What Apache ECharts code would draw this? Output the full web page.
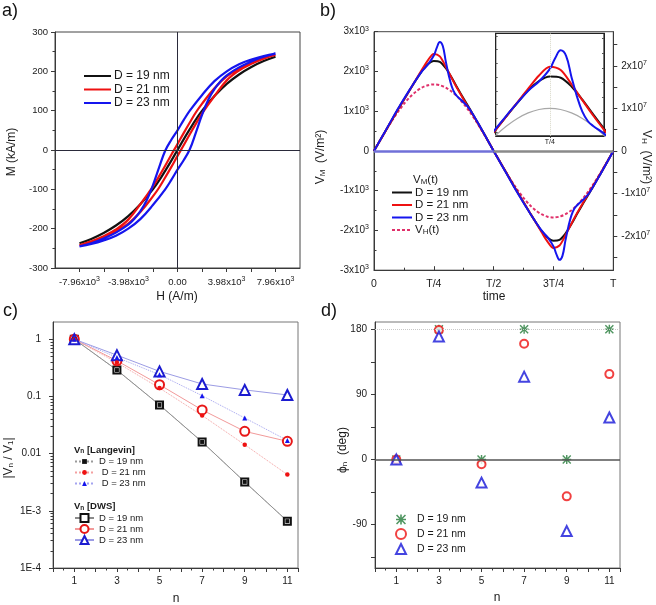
<!DOCTYPE html>
<html><head><meta charset="utf-8">
<script src="https://cdn.jsdelivr.net/npm/echarts@6/dist/echarts.min.js"></script>
<style>html,body{margin:0;padding:0;background:#fff}#c{width:656px;height:605px}</style>
</head><body><div id="c"></div>
<script>
// ---------- Panel a : hysteresis loops ----------
const aXLabelVals = [-7960, -3980, 0, 3980, 7960];
const aXLabelText = ['-7.96x10{s|3}', '-3.98x10{s|3}', '0.00', '3.98x10{s|3}', '7.96x10{s|3}'];
const a19H = [-7960,-7000,-6000,-5000,-4000,-3000,-2000,-1500,-1000,-500,0,500,1000,1500,2000,3000,4000,5000,6000,7000,7960];
const a19M = [-237,-226,-211,-192,-168,-137,-100,-78,-53,-27,0,27,53,78,100,137,168,192,211,226,237];
const a21DescH = [7960,7000,6000,5000,4000,3000,2000,1500,1000,500,0,-500,-1000,-1500,-2000,-3000,-4000,-5000,-6000,-7000,-7960];
const a21DescM = [242,234,222,207,187,157,118,96,70,43,15,-12,-40,-67,-93,-137,-177,-202,-219,-232,-242];
const a21AscH = [-7960,-7000,-6000,-5000,-4000,-3000,-2000,-1500,-1000,-500,0,500,1000,1500,2000,3000,4000,5000,6000,7000,7960];
const a21AscM = [-242,-234,-222,-207,-187,-157,-118,-96,-70,-43,-15,12,40,67,93,137,177,202,219,232,242];
const a23DescH = [7960,7000,6000,5000,4000,3000,2000,1000,500,0,-500,-1000,-1500,-2000,-2500,-3000,-3500,-4000,-5000,-6000,-7000,-7960];
const a23DescM = [245,239,230,218,200,175,140,100,76,50,26,-2,-45,-90,-128,-155,-175,-190,-210,-225,-237,-245];
const a23AscH = [-7960,-7000,-6000,-5000,-4000,-3000,-2000,-1000,-500,0,500,1000,1500,2000,2500,3000,3500,4000,5000,6000,7000,7960];
const a23AscM = [-245,-239,-230,-218,-200,-175,-140,-100,-76,-50,-26,2,45,90,128,155,175,190,210,225,237,245];

// ---------- Panel b : V_M(t) and V_H(t) ----------
const bTickText = ['0', 'T/4', 'T/2', '3T/4', 'T'];
const bT = [0,0.025,0.05,0.075,0.1,0.125,0.15,0.175,0.2,0.225,0.25,0.275,0.3,0.325,0.35,0.375,0.4,0.425,0.45,0.475,0.5,
            0.525,0.55,0.575,0.6,0.625,0.65,0.675,0.7,0.725,0.75,0.775,0.8,0.825,0.85,0.875,0.9,0.925,0.95,0.975,1];
const b19 = [0,260,520,780,1040,1290,1540,1780,2010,2180,2260,2240,2080,1840,1570,1310,1060,800,540,270,0,
             -260,-520,-780,-1040,-1290,-1540,-1780,-2010,-2180,-2260,-2240,-2080,-1840,-1570,-1310,-1060,-800,-540,-270,0];
const b21 = [0,260,520,780,1040,1290,1540,1790,2040,2280,2440,2380,2120,1830,1550,1290,1040,790,530,270,0,
             -260,-520,-780,-1040,-1290,-1540,-1790,-2040,-2280,-2440,-2380,-2120,-1830,-1550,-1290,-1040,-790,-530,-270,0];
const b23T = [0,0.05,0.1,0.15,0.2,0.225,0.25,0.2625,0.275,0.2875,0.3,0.3125,0.325,0.3375,0.35,0.375,0.4,0.45,0.5,
              0.55,0.6,0.65,0.7,0.725,0.75,0.7625,0.775,0.7875,0.8,0.8125,0.825,0.8375,0.85,0.875,0.9,0.95,1];
const b23 = [0,530,1060,1550,2000,2170,2400,2600,2740,2640,2250,1900,1620,1450,1360,1220,1050,540,0,
             -530,-1060,-1550,-2000,-2170,-2400,-2600,-2740,-2640,-2250,-1900,-1620,-1450,-1360,-1220,-1050,-540,0];
const bVH = [0,0.244e7,0.483e7,0.709e7,0.918e7,1.104e7,1.264e7,1.392e7,1.486e7,1.543e7,1.562e7,1.543e7,1.486e7,1.392e7,1.264e7,1.104e7,0.918e7,0.709e7,0.483e7,0.244e7,0,
             -0.244e7,-0.483e7,-0.709e7,-0.918e7,-1.104e7,-1.264e7,-1.392e7,-1.486e7,-1.543e7,-1.562e7,-1.543e7,-1.486e7,-1.392e7,-1.264e7,-1.104e7,-0.918e7,-0.709e7,-0.483e7,-0.244e7,0];

// ---------- Panel c : harmonic amplitudes ----------
const cN = [1, 3, 5, 7, 9, 11];
const cLan19 = [1.0, 0.289, 0.071, 0.016, 0.0032, 0.00066];
const cLan21 = [1.0, 0.39, 0.14, 0.0464, 0.0143, 0.0043];
const cLan23 = [1.0, 0.48, 0.24, 0.103, 0.042, 0.017];
const cDws19 = [1.0, 0.289, 0.071, 0.016, 0.0032, 0.00066];
const cDws21 = [1.0, 0.42, 0.16, 0.058, 0.0245, 0.0164];
const cDws23 = [1.0, 0.527, 0.274, 0.165, 0.130, 0.106];
const cYLabels = {'0': '1', '-1': '0.1', '-2': '0.01', '-3': '1E-3', '-4': '1E-4'};

// ---------- Panel d : harmonic phases ----------
const dN = [1, 3, 5, 7, 9, 11];
const d19 = [0, 180, 0, 180, 0, 180];
const d21 = [0, 179, -6.5, 160, -51, 118];
const d23 = [0, 170, -32, 114.5, -99, 58];

const names = {
  a19: 'D = 19 nm', a21: 'D = 21 nm', a23: 'D = 23 nm',
  b19: 'D = 19 nm', b21: 'D = 21 nm', b23: 'D = 23 nm', bVH: 'V{sub|H}(t)',
  cL19: 'D = 19 nm', cL21: ' D = 21 nm', cL23: ' D = 23 nm',
  cD19: 'D = 19 nm', cD21: 'D = 21 nm', cD23: 'D = 23 nm',
  d19: 'D = 19 nm', d21: 'D = 21 nm', d23: 'D = 23 nm'
};

const FONT = '"Liberation Sans", Arial, sans-serif';
const TXT = '#1a1a1a';
const AX = '#3a3a3a';
const BLACK = '#111111', RED = '#ee1111', BLUE = '#1515ee';
const pairs = (xs, ys) => xs.map((x, i) => [x, ys[i]]);
const supRich = { s: { fontSize: 7, lineHeight: 6, verticalAlign: 'top', fontFamily: FONT, color: TXT } };
const subRich = { sub: { fontSize: 8, lineHeight: 6, verticalAlign: 'bottom', fontFamily: FONT, color: TXT } };

function frameGrid(left, top, width, height, extra) {
  return Object.assign({ left, top, width, height, show: true, borderColor: '#444', borderWidth: 1,
    backgroundColor: 'transparent', containLabel: false, outerBoundsMode: 'none' }, extra || {});
}
const lblBase = { color: TXT, fontFamily: FONT, fontSize: 10 };

// minor log ticks for panel c (positions of 2..9 x 10^k in log space)
const cMinor = [];
for (let d = -4; d <= 0; d++) for (let k = 2; k <= 9; k++) { const v = d + Math.log10(k); if (v < Math.log10(2)) cMinor.push(v); }

const chart = echarts.init(document.getElementById('c'));
const option = {
  animation: false,
  backgroundColor: '#fff',
  textStyle: { fontFamily: FONT },
  grid: [
    frameGrid(55, 32, 245, 236),
    frameGrid(374, 31.7, 239.3, 238.5),
    frameGrid(495.7, 33.3, 108.3, 102.5, { borderColor: '#222', borderWidth: 1.2 }),
    frameGrid(53, 322, 245, 246, { borderColor: '#777' }),
    frameGrid(375, 322, 245, 246, { borderColor: '#777' })
  ],
  xAxis: [
    { gridIndex: 0, type: 'value', min: -9950, max: 9950, interval: 1990, splitLine: { show: false },
      axisLine: { onZero: false, lineStyle: { color: AX } }, axisTick: { length: 4, lineStyle: { color: AX } },
      axisLabel: Object.assign({}, lblBase, { fontSize: 9.5, margin: 8, interval: 0, rich: supRich, lineHeight: 13,
        showMinLabel: false, showMaxLabel: false,
        formatter: v => { const i = aXLabelVals.findIndex(t => Math.abs(t - v) < 1); return i < 0 ? '' : aXLabelText[i]; } }) },
    { gridIndex: 1, type: 'value', min: 0, max: 1, interval: 0.25, splitLine: { show: false },
      axisLine: { onZero: false, lineStyle: { color: AX } }, axisTick: { inside: true, length: 4, lineStyle: { color: AX } },
      minorTick: { show: true, splitNumber: 2, length: 2.5, lineStyle: { color: AX } },
      axisLabel: Object.assign({}, lblBase, { fontSize: 10.5, margin: 8, formatter: v => bTickText[Math.round(v / 0.25)] }) },
    { gridIndex: 2, type: 'value', min: 0.125, max: 0.375, splitLine: { show: false },
      axisLine: { onZero: false, lineStyle: { color: '#222' } },
      axisTick: { inside: false, length: 2, customValues: [0.25], lineStyle: { color: '#222' } },
      axisLabel: Object.assign({}, lblBase, { fontSize: 7, margin: 3, customValues: [0.25], formatter: () => 'T/4' }) },
    { gridIndex: 3, type: 'value', min: 0, max: 11.5, interval: 1, splitLine: { show: false },
      axisLine: { onZero: false, lineStyle: { color: AX } }, axisTick: { length: 4, lineStyle: { color: AX } },
      minorTick: { show: true, splitNumber: 2, length: 2.5, lineStyle: { color: AX } },
      axisLabel: Object.assign({}, lblBase, { margin: 8, interval: 0, formatter: v => (v % 2 === 1 ? String(v) : '') }) },
    { gridIndex: 4, type: 'value', min: 0, max: 11.5, interval: 1, splitLine: { show: false },
      axisLine: { onZero: false, lineStyle: { color: AX } }, axisTick: { length: 4, lineStyle: { color: AX } },
      minorTick: { show: true, splitNumber: 2, length: 2.5, lineStyle: { color: AX } },
      axisLabel: Object.assign({}, lblBase, { margin: 8, interval: 0, formatter: v => (v % 2 === 1 ? String(v) : '') }) }
  ],
  yAxis: [
    { gridIndex: 0, type: 'value', min: -300, max: 300, interval: 100, splitLine: { show: false },
      axisLine: { onZero: false, lineStyle: { color: AX } }, axisTick: { length: 4, lineStyle: { color: AX } },
      minorTick: { show: true, splitNumber: 2, length: 2.5, lineStyle: { color: AX } },
      axisLabel: Object.assign({}, lblBase, { fontSize: 9.5, margin: 7 }) },
    { gridIndex: 1, type: 'value', min: -3000, max: 3000, interval: 1000, splitLine: { show: false },
      axisLine: { onZero: false, lineStyle: { color: AX } }, axisTick: { inside: true, length: 4, lineStyle: { color: AX } },
      minorTick: { show: true, splitNumber: 2, length: 2.5, lineStyle: { color: AX } },
      axisLabel: Object.assign({}, lblBase, { margin: 5, rich: supRich, lineHeight: 13,
        formatter: v => (v === 0 ? '0' : (v / 1000) + 'x10{s|3}') }) },
    { gridIndex: 1, type: 'value', position: 'right', min: -2.8e7, max: 2.8e7, splitLine: { show: false },
      axisLine: { onZero: false, lineStyle: { color: AX } },
      axisTick: { length: 4, customValues: [-2.5e7,-2e7,-1.5e7,-1e7,-0.5e7,0,0.5e7,1e7,1.5e7,2e7,2.5e7], lineStyle: { color: AX } },
      axisLabel: Object.assign({}, lblBase, { margin: 8, rich: supRich, lineHeight: 13, customValues: [-2e7,-1e7,0,1e7,2e7],
        formatter: v => (Math.abs(v) < 1 ? '0' : Math.round(v / 1e7) + 'x10{s|7}') }) },
    { gridIndex: 2, type: 'value', min: 1180, max: 3050, splitLine: { show: false },
      axisLine: { onZero: false, lineStyle: { color: '#222' } },
      axisTick: { inside: true, length: 2, customValues: [1250,1500,1750,2000,2250,2500,2750,3000], lineStyle: { color: '#555' } },
      axisLabel: { show: false } },
    { gridIndex: 2, type: 'value', position: 'right', min: 1.097e7, max: 2.836e7, splitLine: { show: false },
      axisLine: { onZero: false, lineStyle: { color: '#222' } },
      axisTick: { inside: true, length: 2, customValues: [1.25e7,1.5e7,1.75e7,2e7,2.25e7,2.5e7,2.75e7], lineStyle: { color: '#555' } },
      axisLabel: { show: false } },
    { gridIndex: 3, type: 'log', logBase: 10, min: 0.0001, max: 2, splitLine: { show: false },
      axisLine: { onZero: false, lineStyle: { color: AX } }, axisTick: { length: 4, lineStyle: { color: AX } },
      axisLabel: Object.assign({}, lblBase, { margin: 12, showMaxLabel: false,
        formatter: v => { const l = Math.log10(v); const r = Math.round(l); return Math.abs(l - r) < 0.01 ? (cYLabels[String(r)] || '') : ''; } }) },
    { gridIndex: 3, type: 'value', min: -4, max: Math.log10(2), position: 'left', offset: 0, splitLine: { show: false },
      axisLine: { show: false }, axisLabel: { show: false },
      axisTick: { show: true, length: 2.5, customValues: cMinor, lineStyle: { color: AX } } },
    { gridIndex: 4, type: 'value', min: -150, max: 190, splitLine: { show: false },
      axisLine: { onZero: false, lineStyle: { color: AX } },
      axisTick: { length: 4, customValues: [-135,-90,-45,0,45,90,135,180], lineStyle: { color: AX } },
      axisLabel: Object.assign({}, lblBase, { margin: 8, customValues: [-90, 0, 90, 180] }) }
  ],
  legend: [
    { data: ['a19','a21','a23'], left: 83, top: 70, orient: 'vertical', padding: 0, itemWidth: 27, itemHeight: 12, itemGap: 1.5,
      selectedMode: false, itemStyle: { opacity: 0 }, formatter: n => names[n],
      textStyle: { fontSize: 12, color: TXT, fontFamily: FONT, padding: [0,0,0,-2] } },
    { data: ['b19','b21','b23','bVH'], left: 391, top: 186.5, orient: 'vertical', padding: 0, itemWidth: 20, itemHeight: 12, itemGap: 0.5,
      selectedMode: false, itemStyle: { opacity: 0 }, formatter: n => names[n],
      textStyle: { fontSize: 11.5, color: TXT, fontFamily: FONT, padding: [0,0,0,-2], rich: subRich } },
    { data: ['cL19','cL21','cL23'], left: 74, top: 456.5, orient: 'vertical', padding: 0, itemWidth: 19, itemHeight: 6, itemGap: 1,
      selectedMode: false, formatter: n => names[n], textStyle: { fontSize: 9.5, lineHeight: 10, color: TXT, fontFamily: FONT } },
    { data: ['cD19','cD21','cD23'], left: 74, top: 513, orient: 'vertical', padding: 0, itemWidth: 19, itemHeight: 10, itemGap: 1,
      selectedMode: false, formatter: n => names[n], textStyle: { fontSize: 9.5, lineHeight: 10, color: TXT, fontFamily: FONT } },
    { data: ['d19','d21','d23'], left: 395, top: 514, orient: 'vertical', padding: 0, itemWidth: 10, itemHeight: 10, itemGap: 3,
      selectedMode: false, formatter: n => names[n], textStyle: { fontSize: 10.5, color: TXT, fontFamily: FONT, padding: [0,0,0,6] } }
  ],
  graphic: [
    { type: 'text', left: 2, top: 2, style: { text: 'a)', fontSize: 18, fill: '#111', fontFamily: FONT } },
    { type: 'text', left: 320, top: 2, style: { text: 'b)', fontSize: 18, fill: '#111', fontFamily: FONT } },
    { type: 'text', left: 3, top: 302, style: { text: 'c)', fontSize: 18, fill: '#111', fontFamily: FONT } },
    { type: 'text', left: 321, top: 302, style: { text: 'd)', fontSize: 18, fill: '#111', fontFamily: FONT } },
    { type: 'text', x: 177, y: 297, style: { text: 'H (A/m)', fontSize: 12, fill: TXT, fontFamily: FONT, align: 'center', verticalAlign: 'middle' } },
    { type: 'text', x: 12, y: 152, rotation: Math.PI / 2, style: { text: 'M (kA/m)', fontSize: 12, fill: TXT, fontFamily: FONT, align: 'center', verticalAlign: 'middle' } },
    { type: 'text', x: 494, y: 297, style: { text: 'time', fontSize: 12, fill: TXT, fontFamily: FONT, align: 'center', verticalAlign: 'middle' } },
    { type: 'text', x: 321, y: 157, rotation: Math.PI / 2, style: { text: 'V{sub|M}  (V/m²)', fontSize: 12, fill: TXT, fontFamily: FONT, align: 'center', verticalAlign: 'middle', rich: subRich } },
    { type: 'text', x: 646, y: 157, rotation: -Math.PI / 2, style: { text: 'V{sub|H}  (V/m²)', fontSize: 12, fill: TXT, fontFamily: FONT, align: 'center', verticalAlign: 'middle', rich: subRich } },
    { type: 'text', x: 413, y: 180, style: { text: 'V{sub|M}(t)', fontSize: 11.5, fill: TXT, fontFamily: FONT, align: 'left', verticalAlign: 'middle', rich: subRich } },
    { type: 'text', x: 9, y: 458, rotation: Math.PI / 2, style: { text: '|V{sub|n} / V{sub|1}|', fontSize: 12, fill: TXT, fontFamily: FONT, align: 'center', verticalAlign: 'middle', rich: subRich } },
    { type: 'text', x: 176, y: 599, style: { text: 'n', fontSize: 12, fill: TXT, fontFamily: FONT, align: 'center', verticalAlign: 'middle' } },
    { type: 'text', x: 74, y: 450, style: { text: 'V{bs|n} [Langevin]', fontSize: 9.5, fontWeight: 'bold', fill: TXT, fontFamily: FONT, align: 'left', verticalAlign: 'middle',
      rich: { bs: { fontSize: 6.5, fontWeight: 'bold', lineHeight: 5, verticalAlign: 'bottom', fontFamily: FONT, color: TXT } } } },
    { type: 'text', x: 74, y: 506.7, style: { text: 'V{bs|n} [DWS]', fontSize: 9.5, fontWeight: 'bold', fill: TXT, fontFamily: FONT, align: 'left', verticalAlign: 'middle',
      rich: { bs: { fontSize: 6.5, fontWeight: 'bold', lineHeight: 5, verticalAlign: 'bottom', fontFamily: FONT, color: TXT } } } },
    { type: 'text', x: 343, y: 450, rotation: Math.PI / 2, style: { text: 'ϕ{sub|n}  (deg)', fontSize: 12, fill: TXT, fontFamily: FONT, align: 'center', verticalAlign: 'middle', rich: subRich } },
    { type: 'text', x: 497, y: 598, style: { text: 'n', fontSize: 12, fill: TXT, fontFamily: FONT, align: 'center', verticalAlign: 'middle' } }
  ],
  series: [
    // ----- panel a -----
    { name: 'a19', type: 'line', xAxisIndex: 0, yAxisIndex: 0, data: pairs(a19H, a19M), symbol: 'none', smooth: 0.4,
      lineStyle: { color: BLACK, width: 2.2 }, itemStyle: { color: BLACK },
      markLine: { silent: true, symbol: 'none', label: { show: false }, lineStyle: { color: '#2a2a3a', width: 1, type: 'solid' },
        data: [{ xAxis: 0 }, { yAxis: 0 }] } },
    { name: 'a21', type: 'line', xAxisIndex: 0, yAxisIndex: 0, data: pairs(a21DescH, a21DescM).concat(pairs(a21AscH, a21AscM)),
      symbol: 'none', smooth: 0.4, lineStyle: { color: RED, width: 2.2 }, itemStyle: { color: RED } },
    { name: 'a23', type: 'line', xAxisIndex: 0, yAxisIndex: 0, data: pairs(a23DescH, a23DescM).concat(pairs(a23AscH, a23AscM)),
      symbol: 'none', smooth: 0.4, lineStyle: { color: BLUE, width: 2.2 }, itemStyle: { color: BLUE } },
    // ----- panel b main -----
    { name: 'bVH', type: 'line', xAxisIndex: 1, yAxisIndex: 2, data: pairs(bT, bVH), symbol: 'none', smooth: 0.3,
      lineStyle: { color: '#e0306a', width: 2, type: [3, 2] }, itemStyle: { color: '#e0306a' },
      markLine: { silent: true, symbol: 'none', label: { show: false },
        data: [
          [{ coord: [0.5, 0], lineStyle: { color: '#8a8a8a', width: 2.5, type: 'solid' } }, { coord: [1, 0] }],
          [{ coord: [0, 0], lineStyle: { color: '#7070d8', width: 2.5, type: 'solid' } }, { coord: [0.5, 0] }]
        ] } },
    { name: 'b19', type: 'line', xAxisIndex: 1, yAxisIndex: 1, data: pairs(bT, b19), symbol: 'none', smooth: 0.3,
      lineStyle: { color: BLACK, width: 2 }, itemStyle: { color: BLACK } },
    { name: 'b21', type: 'line', xAxisIndex: 1, yAxisIndex: 1, data: pairs(bT, b21), symbol: 'none', smooth: 0.3,
      lineStyle: { color: RED, width: 2 }, itemStyle: { color: RED } },
    { name: 'b23', type: 'line', xAxisIndex: 1, yAxisIndex: 1, data: pairs(b23T, b23), symbol: 'none', smooth: 0.4,
      lineStyle: { color: BLUE, width: 2 }, itemStyle: { color: BLUE } },
    // ----- panel b inset -----
    { name: 'iVH', type: 'line', xAxisIndex: 2, yAxisIndex: 4, data: pairs(bT, bVH), symbol: 'none', smooth: 0.3, clip: true,
      lineStyle: { color: '#a8a8a8', width: 1.2 },
      markLine: { silent: true, symbol: 'none', label: { show: false }, lineStyle: { color: '#d8d8c8', width: 1, type: 'dotted' },
        data: [{ xAxis: 0.25 }] } },
    { name: 'i19', type: 'line', xAxisIndex: 2, yAxisIndex: 3, data: pairs(bT, b19), symbol: 'none', smooth: 0.3, clip: true,
      lineStyle: { color: BLACK, width: 2 } },
    { name: 'i21', type: 'line', xAxisIndex: 2, yAxisIndex: 3, data: pairs(bT, b21), symbol: 'none', smooth: 0.3, clip: true,
      lineStyle: { color: RED, width: 2 } },
    { name: 'i23', type: 'line', xAxisIndex: 2, yAxisIndex: 3, data: pairs(b23T, b23), symbol: 'none', smooth: 0.4, clip: true,
      lineStyle: { color: BLUE, width: 2 } },
    // ----- panel c (DWS first, Langevin on top) -----
    { name: 'cD19', type: 'line', xAxisIndex: 3, yAxisIndex: 5, data: pairs(cN, cDws19), symbol: 'emptyRect', symbolSize: 7,
      lineStyle: { color: '#8a8a8a', width: 1 }, itemStyle: { color: '#111', borderWidth: 1.5 } },
    { name: 'cD21', type: 'line', xAxisIndex: 3, yAxisIndex: 5, data: pairs(cN, cDws21), symbol: 'emptyCircle', symbolSize: 9,
      lineStyle: { color: '#f29a9a', width: 1 }, itemStyle: { color: '#e81818', borderWidth: 1.5 } },
    { name: 'cD23', type: 'line', xAxisIndex: 3, yAxisIndex: 5, data: pairs(cN, cDws23), symbol: 'emptyTriangle', symbolSize: 10,
      lineStyle: { color: '#9c9ce4', width: 1 }, itemStyle: { color: '#1c1cd0', borderWidth: 1.5 } },
    { name: 'cL19', type: 'line', xAxisIndex: 3, yAxisIndex: 5, data: pairs(cN, cLan19), symbol: 'rect', symbolSize: 4,
      lineStyle: { color: '#9a9a9a', width: 1, type: 'dotted' }, itemStyle: { color: '#111' } },
    { name: 'cL21', type: 'line', xAxisIndex: 3, yAxisIndex: 5, data: pairs(cN, cLan21), symbol: 'circle', symbolSize: 4.5,
      lineStyle: { color: '#f4a0a0', width: 1, type: 'dotted' }, itemStyle: { color: '#ee1111' } },
    { name: 'cL23', type: 'line', xAxisIndex: 3, yAxisIndex: 5, data: pairs(cN, cLan23), symbol: 'triangle', symbolSize: 5,
      lineStyle: { color: '#a4a4f0', width: 1, type: 'dotted' }, itemStyle: { color: '#1515ee' } },
    // ----- panel d -----
    { name: 'd19', type: 'scatter', xAxisIndex: 4, yAxisIndex: 7, data: pairs(dN, d19), symbolSize: 9,
      symbol: 'path://M4.2 0L5.8 0L5.8 10L4.2 10ZM0 4.2L10 4.2L10 5.8L0 5.8ZM1.1 0L10 8.9L8.9 10L0 1.1ZM8.9 0L10 1.1L1.1 10L0 8.9Z',
      itemStyle: { color: '#237a38' },
      markLine: { silent: true, symbol: 'none', label: { show: false },
        data: [
          { yAxis: 0, lineStyle: { color: '#555', width: 1.5, type: 'solid' } },
          { yAxis: 180, lineStyle: { color: '#c8c8c8', width: 1, type: 'dotted' } }
        ] } },
    { name: 'd21', type: 'scatter', xAxisIndex: 4, yAxisIndex: 7, data: pairs(dN, d21), symbol: 'emptyCircle', symbolSize: 8,
      itemStyle: { color: '#ee1111', borderWidth: 1.5 } },
    { name: 'd23', type: 'scatter', xAxisIndex: 4, yAxisIndex: 7, data: pairs(dN, d23), symbol: 'emptyTriangle', symbolSize: 10,
      itemStyle: { color: '#1515d8', borderWidth: 1.5 } }
  ]
};
chart.setOption(option);
</script>
</body></html>
